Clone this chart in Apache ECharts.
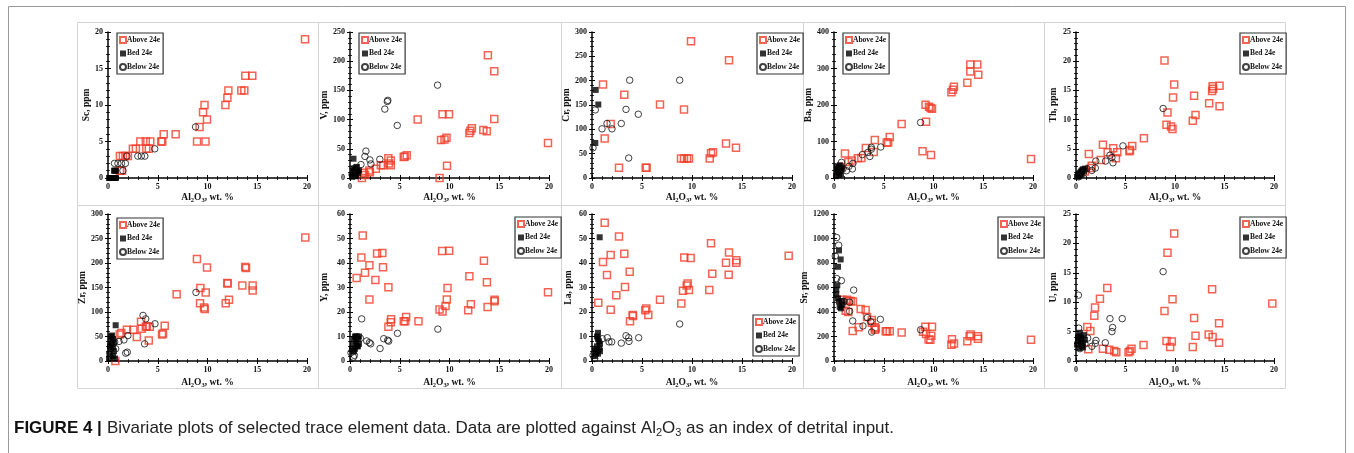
<!DOCTYPE html>
<html><head><meta charset="utf-8">
<script src="https://cdn.jsdelivr.net/npm/echarts@6/dist/echarts.min.js"></script>
<style>html,body{margin:0;padding:0;background:#fff}#c{width:1354px;height:453px}</style>
</head><body><div id="c"></div>
<script>
// ---------- DATA ----------
const groupNames = ['Above 24e', 'Bed 24e', 'Below 24e'];
const yTitles = ['Sc, ppm', 'V, ppm', 'Cr, ppm', 'Ba, ppm', 'Th, ppm', 'Zr, ppm', 'Y, ppm', 'La, ppm', 'Sr, ppm', 'U, ppm'];
const yMaxes = [20, 250, 300, 400, 25, 300, 60, 60, 1200, 25];
const yIntervals = [5, 50, 50, 100, 5, 50, 10, 10, 200, 5];
const xMax = 20, xInterval = 5;
const captionBold = 'FIGURE 4 |';
const captionText = ['Bivariate plots of selected trace element data. Data are plotted against Al', '2', 'O', '3', ' as an index of detrital input.'];

const scAbove = [[19.8,19],[13.8,14],[14.5,14],[13.4,12],[13.7,12],[12.1,12],[12.0,11],[11.8,10],[9.7,10],[9.55,9],[9.95,8],[9.2,7],[8.95,5],[9.8,5],[6.8,6],[5.6,6],[5.35,5],[5.45,5],[3.25,5],[3.8,5],[4.25,5],[2.5,4],[2.8,4],[3.85,4],[4.1,4],[1.2,3],[1.5,3],[1.75,3],[2.0,3],[1.2,1],[1.4,1]];
const scBed = [[0.1,0],[0.2,0],[0.3,0],[0.4,0],[0.5,0],[0.6,0],[0.7,0],[0.8,0],[0.6,1],[0.7,1],[0.8,1],[0.5,0]];
const scBelow = [[0.65,2],[1.0,2],[1.35,2],[1.75,2],[1.9,3],[3.0,3],[3.35,3],[3.7,3],[1.5,1],[4.7,4],[8.8,7]];

const vAbove = [[13.86,210],[14.5,183],[14.5,101],[19.9,60],[13.4,82],[13.75,80],[12.0,77],[12.1,81],[12.25,85],[9.3,109],[9.95,109],[9.15,65],[9.5,66],[9.7,69],[9.75,21],[9.0,0],[6.8,100],[5.7,39],[5.4,36],[5.5,37],[3.85,34],[4.1,30],[3.9,25],[4.1,22],[3.1,22],[3.35,22],[2.6,16],[1.95,13],[2.0,10],[1.4,9],[1.5,5],[1.2,0]];
const vBed = [[0.35,33],[0.2,2],[0.3,6],[0.4,10],[0.5,14],[0.6,18],[0.7,12],[0.8,8],[0.5,4],[0.4,16],[0.6,3],[0.9,13],[0.3,12],[0.7,19]];
const vBelow = [[8.8,159],[3.8,133],[3.75,131],[3.5,118],[4.75,90],[1.6,46],[1.5,37],[2.0,31],[3.0,32],[1.1,23],[2.1,24],[0.35,16],[0.2,6]];

const crAbove = [[9.9,281],[13.7,242],[1.1,192],[3.23,171],[6.8,151],[9.2,141],[1.87,111],[1.27,81],[13.4,71],[14.4,62],[11.9,51],[12.1,53],[11.77,40],[8.9,40],[9.2,40],[9.5,40],[9.7,40],[2.7,21],[5.37,21],[5.47,21]];
const crBed = [[0.37,181],[0.63,151],[0.33,72]];
const crBelow = [[8.77,201],[3.77,201],[0.33,140],[3.4,141],[4.63,131],[1.5,112],[2.93,112],[1.0,101],[2.0,101],[3.67,41],[0.1,62]];

const baAbove = [[19.8,52],[13.7,311],[14.4,311],[13.7,292],[14.5,283],[13.4,261],[12.05,250],[11.95,242],[11.8,235],[9.2,201],[9.55,195],[9.7,192],[9.85,190],[9.25,154],[8.9,73],[9.75,63],[6.8,148],[5.6,112],[5.3,97],[5.45,97],[4.1,104],[4.0,71],[3.2,82],[2.75,55],[2.4,54],[1.1,67],[1.8,48],[1.45,44],[0.7,30]];
const baBed = [[0.2,5],[0.3,15],[0.4,25],[0.5,32],[0.6,20],[0.7,10],[0.8,28],[0.3,30],[0.5,8],[0.6,35],[0.4,18],[0.7,25]];
const baBelow = [[8.7,152],[3.75,84],[3.75,79],[4.7,85],[3.6,59],[3.4,70],[2.85,64],[1.9,40],[1.85,25],[1.5,32],[0.9,25],[0.75,43],[1.25,20]];

const thAbove = [[8.94,20.1],[9.92,16.0],[9.8,13.8],[11.93,14.1],[14.5,15.8],[13.8,15.7],[13.85,15.3],[13.75,14.9],[13.45,12.8],[14.5,12.3],[12.07,10.8],[11.8,9.8],[9.24,11.2],[9.14,9.1],[9.6,8.8],[9.75,8.4],[6.86,6.8],[5.68,5.5],[5.4,4.6],[5.45,4.8],[2.72,5.7],[3.76,5.1],[4.17,4.4],[4.03,3.4],[3.2,4.4],[1.3,4.1],[2.5,3.1],[1.6,2.1],[1.5,1.7],[0.9,1.1]];
const thBed = [[0.1,0.2],[0.2,0.4],[0.3,0.7],[0.4,0.9],[0.5,1.1],[0.6,1.3],[0.7,1.5],[0.8,1.2],[0.3,0.3],[0.5,0.6],[0.9,1.6],[0.6,0.9],[0.4,0.5]];
const thBelow = [[8.8,11.9],[4.74,5.5],[3.43,3.9],[3.63,3.5],[3.73,2.6],[2.99,2.9],[2.0,2.9],[1.95,1.7],[1.6,1.3],[1.1,1.6],[0.74,0.8],[0.27,0.2]];

const zrAbove = [[19.83,252],[8.94,208],[9.95,191],[13.8,192],[13.87,190],[12.0,159],[12.02,158],[9.28,149],[9.82,140],[13.5,154],[14.54,154],[14.54,144],[6.9,136],[9.25,118],[9.65,109],[9.72,106],[11.83,118],[12.16,125],[3.32,80],[3.38,66],[3.9,71],[3.8,70],[4.2,70],[5.7,72],[5.43,54],[5.53,56],[4.1,42],[2.9,49],[2.55,64],[1.9,64],[1.34,57],[1.17,54],[0.74,0]];
const zrBed = [[0.77,73],[0.1,5],[0.2,15],[0.3,25],[0.4,35],[0.5,45],[0.4,52],[0.3,40],[0.2,30],[0.6,20],[0.5,10],[0.7,5],[0.3,50],[0.6,38],[0.5,28]];
const zrBelow = [[8.84,140],[3.52,93],[3.79,86],[4.72,76],[3.68,35],[2.0,52],[1.6,43],[1.1,40],[0.77,25],[1.78,16],[1.94,18],[0.67,39],[0.17,16]];

const yAbove = [[1.28,51.2],[1.14,42.2],[0.67,33.9],[1.51,36],[1.95,39.1],[1.95,25.1],[2.72,43.9],[3.25,44.1],[3.32,38.3],[2.55,33.1],[3.86,30.1],[3.86,14],[4.1,15.8],[4.13,17],[5.64,18],[5.4,16.2],[5.54,16.2],[6.88,16.2],[9.26,44.9],[9.97,45],[9.8,29.8],[9.73,25.1],[9.6,22.4],[9.0,21],[9.3,20.2],[13.46,40.9],[13.76,32.1],[12.0,34.6],[13.83,22],[14.53,25],[14.53,24.4],[12.15,23.2],[11.88,20.7],[19.9,28.1]];
const yBed = [[0.2,5],[0.3,7],[0.4,9],[0.5,10],[0.6,8],[0.7,6],[0.8,9],[0.9,10],[0.3,4],[0.5,5],[0.6,10],[0.4,4],[0.8,6],[0.7,10],[0.9,7]];
const yBelow = [[1.17,17.2],[1.04,9.3],[1.68,8.2],[1.95,7.5],[2.08,7],[3.02,5.1],[3.39,9.1],[3.79,8.5],[3.89,8.1],[4.77,11.3],[8.83,13],[0.1,3.4],[0.44,2.3],[0.34,1.6]];

const laAbove = [[1.27,56.4],[2.7,50.8],[1.1,40.4],[1.87,43.3],[3.23,43.8],[1.5,35.1],[3.77,36.4],[3.3,30.2],[2.43,26.8],[0.63,23.8],[1.87,20.9],[3.8,16.2],[4.07,18.8],[4.1,18.4],[5.43,21.4],[5.33,20.7],[5.63,18.8],[6.8,25],[9.23,42.2],[9.87,42],[9.57,31.6],[9.47,30.8],[9.7,29],[9.1,28.7],[8.93,23.5],[11.9,48.1],[13.7,44.3],[13.4,40.1],[14.43,41.1],[14.43,40.1],[12.03,35.6],[13.67,35.2],[11.73,29],[19.67,43]];
const laBed = [[0.77,50.5],[0.3,2],[0.4,4],[0.5,6],[0.6,9],[0.6,11.5],[0.7,8],[0.5,10],[0.4,3],[0.7,5],[0.8,7],[0.3,5],[0.6,3],[0.8,4]];
const laBelow = [[8.77,15.1],[4.67,9.5],[3.4,10.3],[3.67,9.5],[3.7,8],[2.93,7.3],[1.53,9.5],[1.7,7.8],[1.97,7.8],[1.03,9.1],[0.7,5.1],[0.27,1],[0.1,2.3]];

const srAbove = [[0.84,500],[1.3,500],[1.45,490],[1.68,490],[1.9,485],[1.17,410],[1.44,400],[1.88,245],[2.48,275],[2.68,425],[3.18,417],[3.32,360],[3.8,335],[3.8,313],[4.1,275],[4.2,265],[4.1,255],[5.2,242],[5.33,242],[5.6,242],[6.8,233],[9.18,280],[9.85,280],[8.95,239],[9.25,220],[9.78,206],[9.51,176],[9.68,173],[11.86,178],[11.8,132],[12.06,143],[13.4,162],[13.73,217],[13.63,203],[14.47,203],[14.47,181],[19.8,173]];
const srBed = [[0.5,903],[0.67,829],[0.4,769],[0.33,618],[0.23,546],[0.5,486],[0.84,459],[0.57,442],[0.4,511],[0.23,582],[0.84,491],[0.7,430]];
const srBelow = [[0.27,1008],[0.47,945],[0.13,857],[0.27,673],[0.74,656],[1.98,579],[1.57,480],[1.57,406],[1.88,327],[2.91,286],[3.35,354],[3.69,321],[3.79,236],[4.66,340],[8.71,255],[1.0,486]];

const uAbove = [[9.92,21.7],[9.24,18.4],[3.16,12.4],[2.42,10.6],[1.92,9.1],[1.85,7.7],[13.75,12.2],[9.75,10.5],[19.83,9.8],[8.94,8.5],[11.93,7.3],[12.07,4.3],[14.45,6.4],[13.4,4.5],[13.8,4.1],[14.45,3.1],[9.14,3.4],[9.68,3.3],[9.51,2.4],[11.8,2.4],[6.82,2.7],[5.61,2.1],[5.45,1.7],[5.31,1.5],[4.07,1.5],[3.87,1.7],[3.36,1.9],[2.72,2.1],[1.14,5.8],[1.45,5.1],[1.24,2.0]];
const uBed = [[0.1,2.8],[0.2,3.5],[0.3,4.2],[0.4,4.8],[0.5,3.9],[0.6,2.5],[0.7,3.1],[0.8,4.4],[0.3,2.2],[0.5,3.0],[0.7,2.3],[0.2,4.0],[0.9,3.6]];
const uBelow = [[0.24,11.2],[0.27,5.6],[8.8,15.2],[3.43,7.2],[4.67,7.2],[3.7,5.7],[3.63,5.0],[2.96,3.1],[2.02,3.5],[1.95,3.0],[1.61,2.5],[1.18,3.9],[0.91,2.9],[0.4,2.1]];

const panelData = [
  [scAbove, scBed, scBelow], [vAbove, vBed, vBelow], [crAbove, crBed, crBelow],
  [baAbove, baBed, baBelow], [thAbove, thBed, thBelow], [zrAbove, zrBed, zrBelow],
  [yAbove, yBed, yBelow], [laAbove, laBed, laBelow], [srAbove, srBed, srBelow],
  [uAbove, uBed, uBelow]
];

// ---------- LAYOUT ----------
const colLeft = [108, 350, 592, 834, 1076];
const colWidth = [199, 199, 200, 199, 198];
const rowTop = [32, 214];
const rowHeight = [146, 147];
const yNameGap = [14, 20, 19, 19, 17, 19, 20, 18, 20, 17];
const legendPos = [
  {left:117, top:33}, {left:359, top:33}, {left:757, top:33}, {left:843, top:33}, {left:1240, top:33},
  {left:117, top:218}, {left:515, top:217}, {left:753, top:315}, {left:998, top:217}, {left:1240, top:217}
];
const panelX = [77, 318, 561, 803, 1044, 1285];
const panelY = [22, 205, 388];

const RED = '#f03c28';
const serif = '"Liberation Serif", "Times New Roman", serif';
const sans = '"Liberation Sans", Arial, sans-serif';

const grids = [], xAxes = [], yAxes = [], series = [], legends = [], graphics = [];
const xNameRich = {
  n: {fontFamily: serif, fontWeight: 'bold', fontSize: 9.5, color: '#111', lineHeight: 12, verticalAlign: 'middle'},
  s: {fontFamily: serif, fontWeight: 'bold', fontSize: 6.5, color: '#111', lineHeight: 6, verticalAlign: 'bottom'}
};
for (let i = 0; i < 10; i++) {
  const r = Math.floor(i / 5), c = i % 5;
  grids.push({left: colLeft[c], top: rowTop[r], width: colWidth[c], height: rowHeight[r], containLabel: false});
}
function axisCommon(inside) {
  return {
    axisTick: {show: true, inside: inside, length: 3, lineStyle: {color: '#000', width: 1}},
    minorTick: {show: true, splitNumber: 5, length: 2, lineStyle: {color: '#000', width: 0.8}},
    splitLine: {show: false}
  };
}
const plain = v => String(v);
for (let pass = 0; pass < 2; pass++) {
  for (let i = 0; i < 10; i++) {
    const main = pass === 0;
    const xa = Object.assign({
      type: 'value', gridIndex: i, min: 0, max: xMax, interval: xInterval, position: 'bottom',
      axisLine: {show: main, onZero: false, lineStyle: {color: '#000', width: 1.5}},
      axisLabel: {show: main, margin: 5, fontFamily: serif, fontWeight: 'bold', fontSize: 8, color: '#111', formatter: plain}
    }, axisCommon(!main));
    if (main) {
      xa.name = '{n|Al}{s|2}{n|O}{s|3}{n|, wt. %}';
      xa.nameLocation = 'middle';
      xa.nameGap = i < 5 ? 14 : 16;
      xa.nameTextStyle = {rich: xNameRich};
    }
    xAxes.push(xa);
    const ya = Object.assign({
      type: 'value', gridIndex: i, min: 0, max: yMaxes[i], interval: yIntervals[i], position: 'left',
      axisLine: {show: main, onZero: false, lineStyle: {color: '#000', width: 1.5}},
      axisLabel: {show: main, margin: 5, fontFamily: serif, fontWeight: 'bold', fontSize: 8, color: '#111', formatter: plain}
    }, axisCommon(!main));
    if (main) {
      ya.name = yTitles[i];
      ya.nameLocation = 'middle';
      ya.nameGap = yNameGap[i];
      ya.nameTextStyle = {fontFamily: serif, fontWeight: 'bold', fontSize: 9.5, color: '#111'};
    }
    yAxes.push(ya);
  }
}
const styles = [
  {symbol: 'rect', symbolSize: 7, itemStyle: {color: 'rgba(255,255,255,0)', borderColor: RED, borderWidth: 1.5}},
  {symbol: 'rect', symbolSize: 6, itemStyle: {color: '#000', borderColor: '#000', borderWidth: 0}},
  {symbol: 'circle', symbolSize: 6.5, itemStyle: {color: 'rgba(255,255,255,0)', borderColor: '#111', borderWidth: 1}}
];
for (let i = 0; i < 10; i++) {
  for (let g = 0; g < 3; g++) {
    series.push(Object.assign({
      type: 'scatter', name: groupNames[g], xAxisIndex: i, yAxisIndex: i,
      data: panelData[i][g], silent: true, animation: false
    }, JSON.parse(JSON.stringify(styles[g]))));
  }
  legends.push({
    data: groupNames, orient: 'vertical', left: legendPos[i].left, top: legendPos[i].top,
    itemWidth: 6, itemHeight: 6, itemGap: 5.5, padding: [3, 3, 3, 2],
    borderColor: '#333', borderWidth: 1.2, backgroundColor: '#fff', selectedMode: false,
    textStyle: {fontFamily: serif, fontWeight: 'bold', fontSize: 7.5, color: '#111', padding: [0, 0, 0, -4], lineHeight: 8}
  });
}
// panel frames
for (let r = 0; r < 2; r++) for (let c = 0; c < 5; c++) {
  graphics.push({type: 'rect', silent: true, z: -1,
    shape: {x: panelX[c] + 0.5, y: panelY[r] + 0.5, width: panelX[c + 1] - panelX[c], height: panelY[r + 1] - panelY[r]},
    style: {fill: 'none', stroke: '#d4d4d4', lineWidth: 1}});
}
graphics.push({type: 'rect', silent: true, z: -1,
  shape: {x: 8.5, y: 6.5, width: 1337, height: 470},
  style: {fill: 'none', stroke: '#9a9a9a', lineWidth: 1}});

const capRich = {
  b: {fontFamily: sans, fontWeight: 'bold', fontSize: 17, color: '#111', lineHeight: 19, verticalAlign: 'middle'},
  r: {fontFamily: sans, fontWeight: 'normal', fontSize: 17, color: '#222', lineHeight: 19, verticalAlign: 'middle'},
  s: {fontFamily: sans, fontWeight: 'normal', fontSize: 11, color: '#222', lineHeight: 14, verticalAlign: 'bottom'}
};
const capStr = '{b|' + captionBold + '} {r|' + captionText[0] + '}{s|' + captionText[1] + '}{r|' + captionText[2] + '}{s|' + captionText[3] + '}{r|' + captionText[4] + '}';

const chart = echarts.init(document.getElementById('c'), null, {renderer: 'canvas'});
chart.setOption({
  backgroundColor: '#fff',
  animation: false,
  title: {text: capStr, left: 14, top: 419, padding: 0, textStyle: {fontWeight: 'normal', rich: capRich}},
  grid: grids, xAxis: xAxes, yAxis: yAxes, series: series, legend: legends, graphic: graphics
});
</script></body></html>
